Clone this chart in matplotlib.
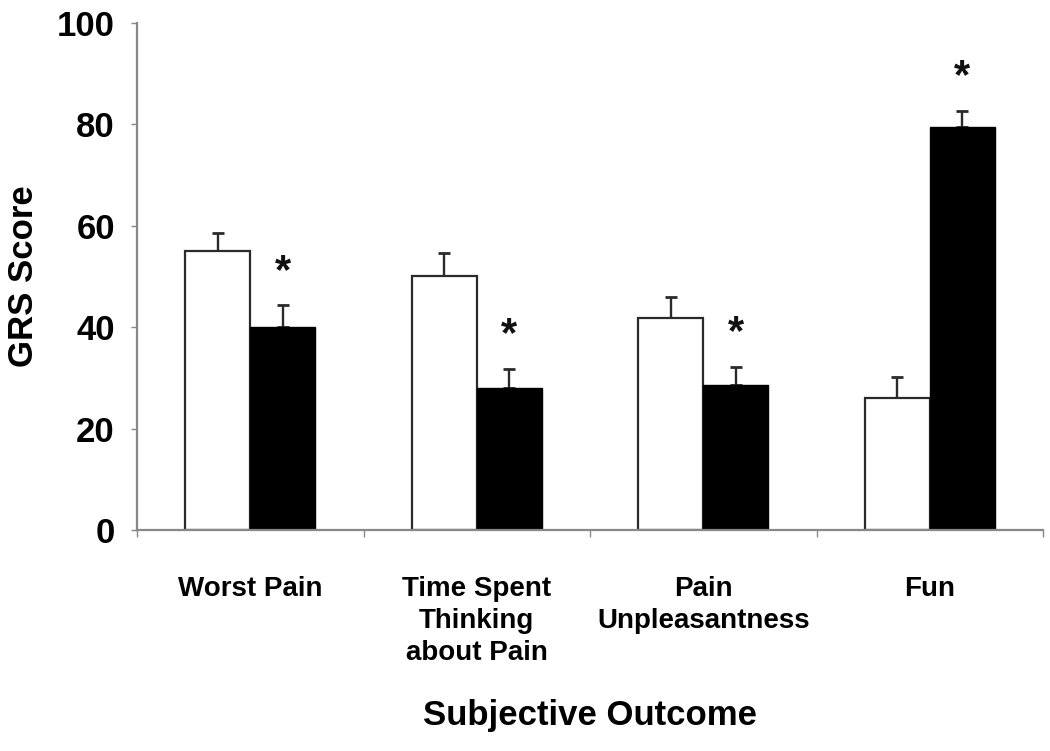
import matplotlib
matplotlib.use("Agg")
import matplotlib.pyplot as plt
import numpy as np

categories = ["Worst Pain", "Time Spent\nThinking\nabout Pain", "Pain\nUnpleasantness", "Fun"]
control_mean = [55.0, 50.0, 41.8, 26.1]
control_err = [3.6, 4.7, 4.1, 4.0]
treat_mean = [40.1, 28.1, 28.6, 79.4]
treat_err = [4.3, 3.7, 3.6, 3.3]
significant = [True, True, True, True]
yticks = [0, 20, 40, 60, 80, 100]

plt.rcParams['font.family'] = ['Liberation Sans', 'DejaVu Sans']
plt.rcParams['font.weight'] = 'bold'

fig = plt.figure(figsize=(10.5, 7.51), dpi=100)
ax = fig.add_axes([0.1305, 0.2943, 0.863, 0.6751])

x = np.arange(len(categories))
w = 0.287
edge = '#2a2a2a'
ax.bar(x - w/2, control_mean, w, color='white', edgecolor=edge, linewidth=1.6, zorder=2)
ax.bar(x + w/2, treat_mean, w, color='black', edgecolor='black', linewidth=1.0, zorder=2)
ax.errorbar(x - w/2, control_mean, yerr=[np.zeros(len(x)), control_err], fmt='none',
            ecolor=edge, elinewidth=1.7, capsize=4.5, capthick=2.0, zorder=1)
ax.errorbar(x + w/2, treat_mean, yerr=[np.zeros(len(x)), treat_err], fmt='none',
            ecolor=edge, elinewidth=1.7, capsize=4.5, capthick=2.0, zorder=1)

for xi, m, e, s in zip(x, treat_mean, treat_err, significant):
    if s:
        ax.text(xi + w/2, m + e + 2.6, "*", ha='center', va='bottom',
                fontsize=30, fontweight='bold', color='#111111')

ax.set_xlim(-0.5, 3.5)
ax.set_ylim(0, 100)
ax.set_yticks(yticks)
ax.set_yticklabels([str(t) for t in yticks], fontsize=25, fontweight='bold')
ax.set_xticks(x)
ax.set_xticklabels(categories, fontsize=20, fontweight='bold', linespacing=1.3, va='top')
ax.set_xticks(np.arange(-0.5, 3.6, 1.0), minor=True)
ax.tick_params(axis='x', which='major', length=0, pad=33)
ax.tick_params(axis='x', which='minor', length=5, width=1.0, color='#888888', direction='out')
ax.tick_params(axis='y', which='major', length=4, width=1.0, color='#888888', direction='out', pad=12)

for side in ['top', 'right']:
    ax.spines[side].set_visible(False)
for side in ['left', 'bottom']:
    ax.spines[side].set_color('#888888')
    ax.spines[side].set_linewidth(1.6)

ax.set_ylabel("GRS Score", fontsize=25, fontweight='bold', labelpad=12)
ax.set_xlabel("Subjective Outcome", fontsize=25, fontweight='bold', labelpad=24)

fig.savefig("out.png", dpi=100, facecolor='white')
